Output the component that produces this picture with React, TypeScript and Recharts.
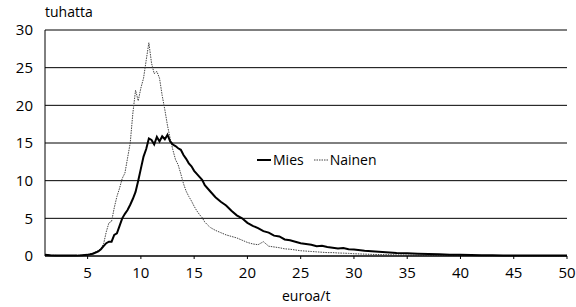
import React from 'react';
import { LineChart, Line, XAxis, YAxis, CartesianGrid } from 'recharts';

if (typeof document !== 'undefined') document.body.style.margin = '0';

// euroa/t
const PRICE = [
  1, 1.5, 2, 2.5, 3, 3.5, 4, 4.5, 5, 5.5,
  6, 6.25, 6.5, 6.75, 7, 7.25, 7.5, 7.75, 8, 8.25, 8.5, 8.75, 9, 9.25, 9.5, 9.75,
  10, 10.25, 10.5, 10.75, 11, 11.25, 11.5, 11.75, 12, 12.25, 12.5, 12.75, 13, 13.25,
  13.5, 13.75, 14, 14.25, 14.5, 14.75, 15, 15.25, 15.5, 15.75,
  16, 16.5, 17, 17.5, 18, 18.5, 19, 19.5, 20, 20.5, 21, 21.5, 22, 22.5, 23, 23.5,
  24, 24.5, 25, 25.5, 26, 26.5, 27, 27.5, 28, 28.5, 29, 29.5, 30,
  31, 32, 33, 34, 35, 36, 37, 38, 39, 40, 41, 42, 43, 44, 45, 46, 47, 48, 49, 50,
];

// tuhatta
const MIES = [
  0.15, 0.1, 0.08, 0.05, 0.05, 0.05, 0.05, 0.1, 0.15, 0.3,
  0.6, 0.9, 1.3, 1.7, 1.9, 1.9, 2.8, 3.0, 4.0, 5.0, 5.6, 6.1, 6.8, 7.6, 8.5, 10.0,
  11.6, 13.2, 14.2, 15.6, 15.4, 14.8, 15.8, 15.2, 15.9, 15.5, 16.1, 15.2, 14.8, 14.6,
  14.3, 14.1, 13.4, 12.9, 12.3, 11.9, 11.3, 10.9, 10.5, 10.1,
  9.4, 8.6, 7.8, 7.2, 6.7, 6.0, 5.4, 5.0, 4.4, 4.0, 3.7, 3.3, 3.1, 2.7, 2.6, 2.2,
  2.1, 1.9, 1.7, 1.6, 1.5, 1.3, 1.35, 1.2, 1.1, 1.0, 1.05, 0.9, 0.85,
  0.7, 0.6, 0.5, 0.4, 0.35, 0.3, 0.25, 0.22, 0.18, 0.15, 0.12, 0.1, 0.1, 0.08, 0.08, 0.06, 0.06, 0.05, 0.05, 0.05,
];

const NAINEN = [
  0.1, 0.1, 0.08, 0.05, 0.05, 0.05, 0.08, 0.1, 0.2, 0.4,
  0.7, 1.0, 1.6, 3.2, 4.4, 4.6, 6.4, 7.9, 9.0, 10.3, 11.0, 13.0, 15.0, 19.0, 22.0, 20.6,
  22.3, 23.6, 26.0, 28.3, 25.6, 24.2, 24.5, 23.6, 21.3, 19.4, 17.3, 15.6, 14.1, 12.8,
  12.1, 10.9, 9.6, 8.6, 7.9, 7.3, 6.6, 6.0, 5.5, 5.1,
  4.5, 3.8, 3.4, 3.1, 2.8, 2.6, 2.4, 2.1, 1.8, 1.6, 1.5, 1.9, 1.3, 1.2, 1.1, 0.95,
  0.9, 0.8, 0.7, 0.65, 0.6, 0.55, 0.5, 0.45, 0.45, 0.4, 0.38, 0.35, 0.3,
  0.25, 0.2, 0.18, 0.15, 0.12, 0.1, 0.08, 0.08, 0.06, 0.05, 0.05, 0.04, 0.04, 0.04, 0.03, 0.03, 0.03, 0.03, 0.02, 0.02,
];

const X_TICKS = [5, 10, 15, 20, 25, 30, 35, 40, 45, 50];
const Y_TICKS = [0, 5, 10, 15, 20, 25, 30];

const FONT = '"Open Sans", "DejaVu Sans", sans-serif';

const data = PRICE.map((p, i) => ({ p, mies: MIES[i], nainen: NAINEN[i] }));

// legend sits inside the plot, drawn as a plain overlay
function LegendBox() {
  return (
    <div
      style={{
        position: 'absolute', left: 257, top: 150, display: 'flex', alignItems: 'center',
        fontFamily: FONT, fontSize: 14, color: '#000', lineHeight: '20px',
      }}
    >
      <svg width={14} height={4} style={{ marginRight: 2 }}>
        <line x1={0} y1={2} x2={14} y2={2} stroke="#000" strokeWidth={2} />
      </svg>
      <span style={{ marginRight: 10 }}>Mies</span>
      <svg width={14} height={4} style={{ marginRight: 2 }}>
        <line x1={0} y1={2} x2={14} y2={2} stroke="#444" strokeWidth={1} strokeDasharray="1.5 1" />
      </svg>
      <span>Nainen</span>
    </div>
  );
}

export default function App() {
  return (
    <div style={{ position: 'relative', width: 576, height: 307, background: '#fff' }}>
      <LineChart width={576} height={307} data={data} margin={{ top: 30, right: 9, bottom: 21, left: 0 }}>
        <CartesianGrid vertical={false} stroke="#000" strokeWidth={1} />
        <XAxis
          dataKey="p"
          type="number"
          domain={[1, 50]}
          ticks={X_TICKS}
          height={30}
          stroke="#000"
          tickSize={3}
          tickMargin={8}
          tick={{ fill: '#000', fontSize: 15, fontFamily: FONT }}
          interval={0}
        />
        <YAxis
          domain={[0, 30]}
          ticks={Y_TICKS}
          width={45}
          stroke="#000"
          tickLine={false}
          tickMargin={6}
          tick={{ fill: '#000', fontSize: 15, fontFamily: FONT }}
          interval={0}
        />
        <Line
          type="linear"
          dataKey="nainen"
          name="Nainen"
          stroke="#444"
          strokeWidth={1}
          strokeDasharray="1.5 1"
          dot={false}
          isAnimationActive={false}
        />
        <Line
          type="linear"
          dataKey="mies"
          name="Mies"
          stroke="#000"
          strokeWidth={2}
          dot={false}
          isAnimationActive={false}
        />
      </LineChart>
      <div style={{ position: 'absolute', left: 45, top: 2, fontFamily: FONT, fontSize: 14 }}>tuhatta</div>
      <div style={{ position: 'absolute', left: 282, top: 286, fontFamily: FONT, fontSize: 14 }}>euroa/t</div>
      <LegendBox />
    </div>
  );
}
